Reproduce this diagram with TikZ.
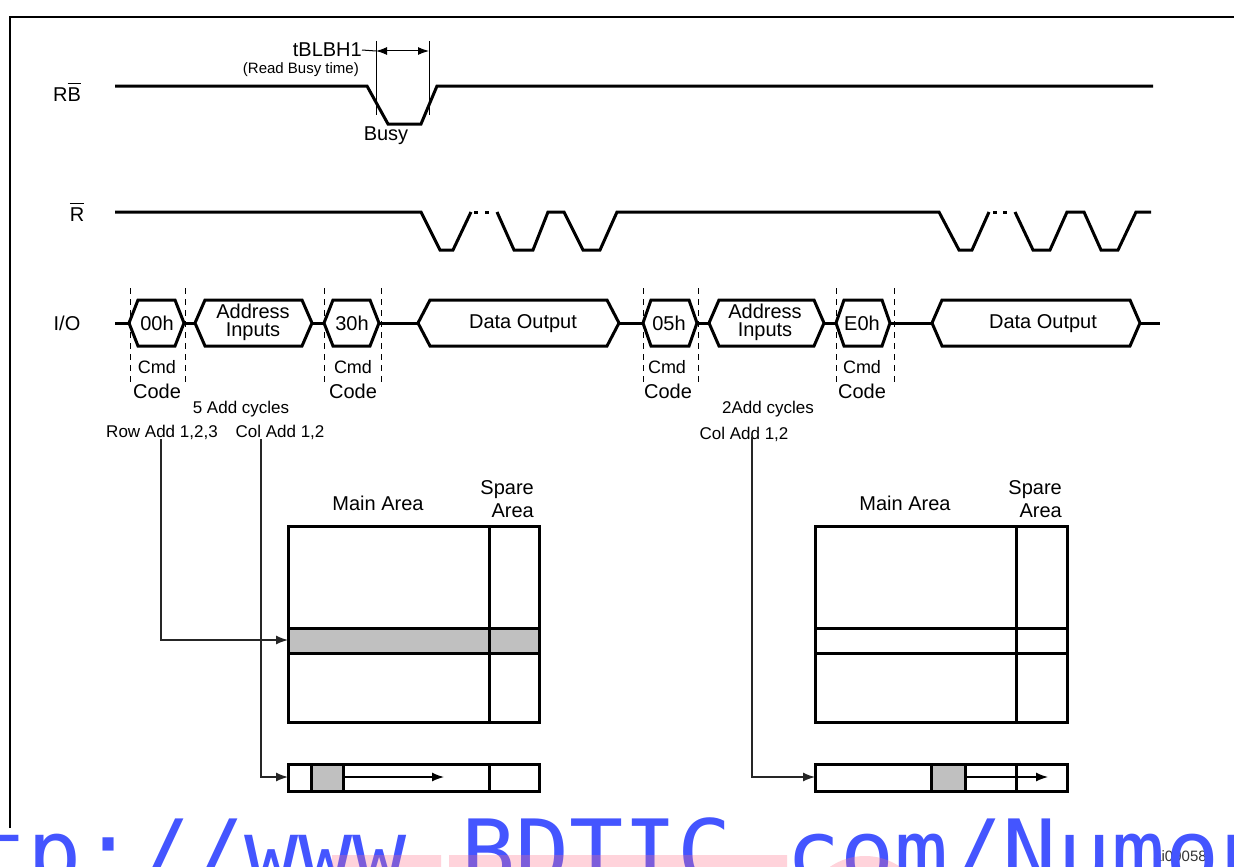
\documentclass[tikz,border=0pt]{standalone}
\usepackage{fontspec}
\setmainfont{Liberation Sans}
\newfontfamily\wmfont{DejaVu Sans Mono}
\usetikzlibrary{arrows.meta}
\definecolor{wmblue}{RGB}{68,85,255}
\definecolor{wmpink}{RGB}{255,110,135}
\definecolor{cellgray}{RGB}{192,192,192}
\newcommand\iohex[3]{\draw[sig] (#1,323) -- ({#1+#3},300) -- ({#2-#3},300) -- (#2,323) -- ({#2-#3},346) -- ({#1+#3},346) -- cycle;}
\newcommand\barred[1]{\leavevmode\setbox0\hbox{#1}\rlap{\rule[17pt]{\wd0}{1.3pt}}\box0}
\begin{document}
\begin{tikzpicture}[x=1pt,y=-1pt,
  sig/.style={line width=3pt,line join=miter},
  lbl/.style={inner sep=0pt,font=\fontsize{20}{22}\selectfont},
  sml/.style={inner sep=0pt,font=\fontsize{17}{19}\selectfont},
  tny/.style={inner sep=0pt,font=\fontsize{15}{17}\selectfont},
  grd/.style={line width=3pt},
  conn/.style={line width=1.3pt,draw=black!85,-{Latex[length=12pt,width=9pt]}},
  dim/.style={line width=1pt},
  guide/.style={line width=1pt,dash pattern=on 6pt off 5pt},
]
\useasboundingbox (0,0) rectangle (1234,867);

% frame
\draw[line width=2.5pt] (10,828) -- (10,17) -- (1240,17);

% RB row
\node[lbl] (rblab) at (67,92) {R\barred{B}};
\draw[sig] (115,86) -- (367,86) -- (388,124) -- (421,124) -- (437,86) -- (1153,86);
\coordinate (dimL) at (376,51);
\coordinate (dimR) at (429,51);
\draw[dim] (376,41) -- (376,115);
\draw[dim] (429,41) -- (429,115);
\draw[dim,{Latex[length=11pt,width=8pt]}-{Latex[length=11pt,width=8pt]}] (dimL) -- (dimR);
\node[lbl,anchor=east] (tblbh) at (362,50) {tBLBH1};
\draw[dim] (tblbh.east) -- (dimL);
\node[tny,anchor=east] (rbt) at (359,70) {(Read Busy time)};
\node[lbl] (busy) at (386,136) {Busy};

% R row
\node[lbl] (rlab) at (77,212) {\barred{R}};
\draw[sig] (115,212) -- (421,212) -- (440,250) -- (453,250) -- (471,212);
\draw[sig] (474,212) -- (478,212);
\draw[sig] (485,212) -- (489,212);
\draw[sig] (497,212) -- (514,250) -- (533,250) -- (548,212) -- (564,212) -- (583,250) -- (600,250) -- (617,212) -- (939,212) -- (959,250) -- (972,250) -- (989,212);
\draw[sig] (993,212) -- (997,212);
\draw[sig] (1003,212) -- (1007,212);
\draw[sig] (1015,212) -- (1033,250) -- (1050,250) -- (1067,212) -- (1084,212) -- (1101,250) -- (1118,250) -- (1136,212) -- (1151,212);

% I/O row
\node[lbl] (iolab) at (67,323) {I/O};
\draw[sig] (115,323) -- (129,323);
\iohex{129}{184}{9}
\draw[sig] (184,323) -- (195,323);
\iohex{195}{312}{10}
\draw[sig] (312,323) -- (324,323);
\iohex{324}{379}{9}
\draw[sig] (379,323) -- (418,323);
\iohex{418}{619}{12}
\draw[sig] (619,323) -- (643,323);
\iohex{643}{697}{8}
\draw[sig] (697,323) -- (709,323);
\iohex{709}{824}{10}
\draw[sig] (824,323) -- (836,323);
\iohex{836}{890}{8}
\draw[sig] (890,323) -- (932,323);
\iohex{932}{1140}{10}
\draw[sig] (1140,323) -- (1160,323);

\node[lbl] (h00) at (157,323) {00h};
\node[lbl,align=center,font=\fontsize{20}{18}\selectfont] (ad1) at (253,322) {Address\\Inputs};
\node[lbl] (h30) at (352,323) {30h};
\node[lbl] (do1) at (523,324) {Data Output};
\node[lbl] (h05) at (669,323) {05h};
\node[lbl,align=center,font=\fontsize{20}{18}\selectfont] (ad2) at (765,322) {Address\\Inputs};
\node[lbl] (he0) at (862,323) {E0h};
\node[lbl] (do2) at (1043,324) {Data Output};

\foreach \gx in {130,185,324,381,643,698,836,894}
  \draw[guide] (\gx,288) -- (\gx,382);

\node[sml,font=\fontsize{18}{19}\selectfont] (cmd1) at (157,367) {Cmd};
\node[lbl] (code1) at (157,391) {Code};
\node[sml,font=\fontsize{18}{19}\selectfont] (cmd2) at (353,367) {Cmd};
\node[lbl] (code2) at (353,391) {Code};
\node[sml,font=\fontsize{18}{19}\selectfont] (cmd3) at (667,367) {Cmd};
\node[lbl] (code3) at (668,391) {Code};
\node[sml,font=\fontsize{18}{19}\selectfont] (cmd4) at (862,367) {Cmd};
\node[lbl] (code4) at (862,391) {Code};

\node[sml] (cyc1) at (241,409) {5 Add cycles};
\node[sml] (rowadd) at (162,432) {Row Add 1,2,3};
\node[sml] (coladd) at (280,432) {Col Add 1,2};
\node[sml] (cyc2) at (768,409) {2Add cycles};
\node[sml] (coladdb) at (744,434) {Col Add 1,2};

% left memory
\node[lbl] (main1) at (378,503) {Main Area};
\node[lbl,align=right,anchor=east,font=\fontsize{20}{23}\selectfont] (spare1) at (534,499) {Spare\\Area};
\fill[cellgray] (288,628) rectangle (539,653);
\draw[grd] (288,526) rectangle (539,722);
\draw[grd] (489,526) -- (489,722);
\draw[grd] (288,628) -- (539,628);
\draw[grd] (288,653) -- (539,653);
\fill[cellgray] (311,764) rectangle (343,791);
\draw[grd] (288,764) rectangle (539,791);
\draw[grd] (311,764) -- (311,791);
\draw[grd] (343,764) -- (343,791);
\draw[grd] (489,764) -- (489,791);
\coordinate (rowin) at (288,640);
\coordinate (colin1) at (288,777);
\coordinate (scan1a) at (343,777);
\coordinate (scan1b) at (444,777);
\draw[conn,draw=black] (scan1a) -- (scan1b);

% right memory
\node[lbl] (main2) at (905,503) {Main Area};
\node[lbl,align=right,anchor=east,font=\fontsize{20}{23}\selectfont] (spare2) at (1062,499) {Spare\\Area};
\draw[grd] (815,526) rectangle (1067,722);
\draw[grd] (1016,526) -- (1016,722);
\draw[grd] (815,628) -- (1067,628);
\draw[grd] (815,653) -- (1067,653);
\fill[cellgray] (931,764) rectangle (965,791);
\draw[grd] (815,764) rectangle (1067,791);
\draw[grd] (931,764) -- (931,791);
\draw[grd] (965,764) -- (965,791);
\draw[grd] (1016,764) -- (1016,791);
\coordinate (colin2) at (815,777);
\coordinate (scan2a) at (965,777);
\coordinate (scan2b) at (1048,777);
\draw[conn,draw=black] (scan2a) -- (scan2b);

% connectors
\draw[conn] ([xshift=-1pt]rowadd.south) |- (rowin);
\draw[conn] ([xshift=-19pt]coladd.south) |- (colin1);
\draw[conn] ([xshift=8pt,yshift=4pt]coladdb.south) |- (colin2);

% figure id
\node[inner sep=0pt,font=\fontsize{15}{17}\selectfont,text=black!80] (fid) at (1180,856) {ai09058};

% watermark
\begin{scope}
\clip (0,0) rectangle (1234,867);
\node[anchor=base west,inner sep=0pt,text=wmblue,font=\wmfont\fontsize{90}{90}\selectfont] (wm) at (-135,884) {http://www.BDTIC.com/Numonyx};
\fill[wmpink,opacity=0.3] (332,855) rectangle (441,870) (449,855) rectangle (787,870) (865,918) circle (62);
\end{scope}
\end{tikzpicture}
\end{document}
